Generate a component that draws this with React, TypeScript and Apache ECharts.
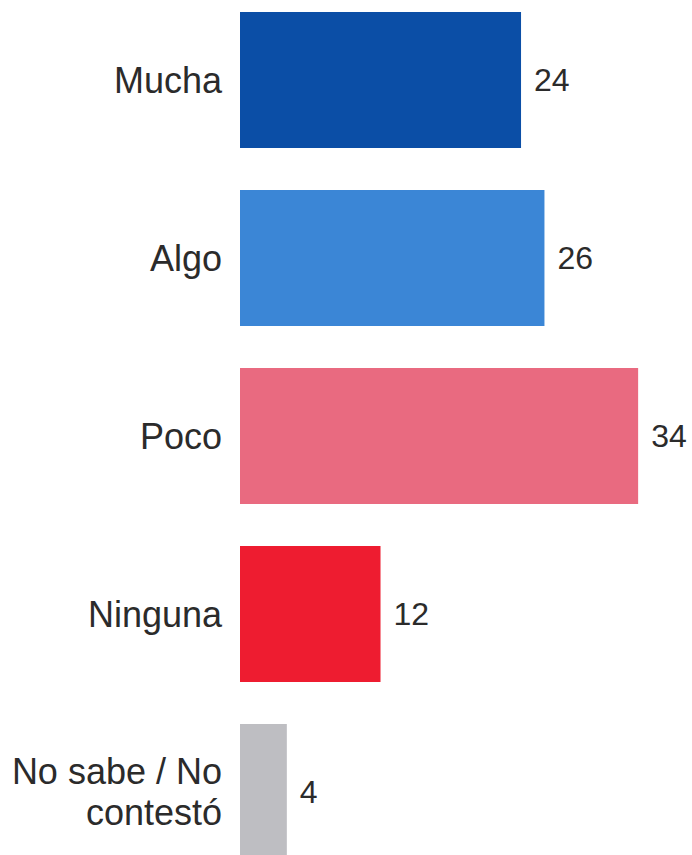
import React, { useEffect, useRef } from "react";
import * as echarts from "echarts";

const categories = ["Mucha", "Algo", "Poco", "Ninguna", "No sabe / No\ncontestó"];
const values = [24, 26, 34, 12, 4];
const colors = ["#0B4EA6", "#3B86D6", "#E96A80", "#EE1C30", "#BEBEC2"];

const FONT = "'Liberation Sans', Arial, Helvetica, sans-serif";

export default function App() {
  const ref = useRef<HTMLDivElement>(null);
  useEffect(() => {
    const chart = echarts.init(ref.current!, null, { renderer: "svg" });
    chart.setOption({
      animation: false,
      backgroundColor: "#ffffff",
      grid: { left: 240, right: 0, top: 0, bottom: 0, containLabel: false },
      xAxis: {
        type: "value",
        min: 0,
        max: 38.6,
        show: false,
      },
      yAxis: {
        type: "category",
        inverse: true,
        data: categories,
        axisLine: { show: false },
        axisTick: { show: false },
        splitLine: { show: false },
        axisLabel: {
          margin: 18,
          fontFamily: FONT,
          fontSize: 36,
          color: "#2b2b2b",
          lineHeight: 41,
          align: "right",
        },
      },
      series: [
        {
          type: "bar",
          barWidth: 136,
          data: values.map((v, i) => ({ value: v, itemStyle: { color: colors[i] } })),
          label: {
            show: true,
            position: "right",
            distance: 13,
            fontFamily: FONT,
            fontSize: 32,
            color: "#2b2b2b",
          },
        },
      ],
    });
    return () => chart.dispose();
  }, []);
  return (
    <div style={{ position: "fixed", left: 0, top: 0, width: 692, height: 855, overflow: "hidden", background: "#fff" }}>
      <div
        ref={ref}
        style={{ position: "absolute", left: 0, top: -9, width: 692, height: 890 }}
      />
    </div>
  );
}
